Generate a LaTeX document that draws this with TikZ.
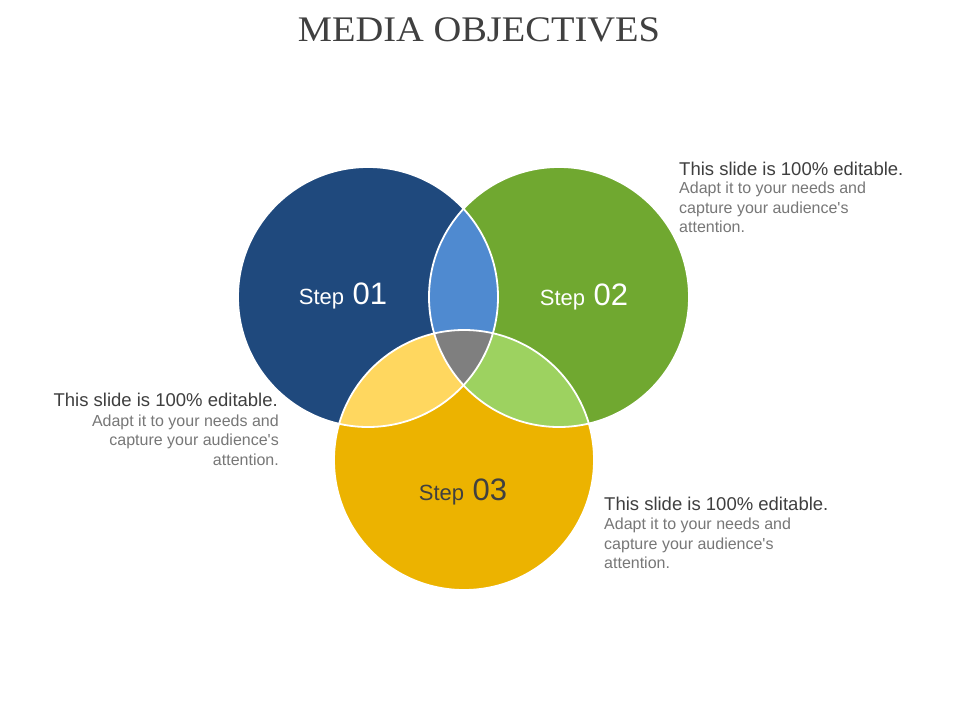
\documentclass[tikz,border=0pt]{standalone}
\usepackage{fontspec}
\usepackage{graphicx}
\setmainfont{Liberation Sans}[Ligatures=TeXOff]
\newfontfamily\titlefont{Liberation Serif}
\definecolor{cblue}{HTML}{1F497D}
\definecolor{cgreen}{HTML}{70A830}
\definecolor{cyellow}{HTML}{ECB300}
\definecolor{clblue}{HTML}{4F8AD0}
\definecolor{clyellow}{HTML}{FFD75F}
\definecolor{clgreen}{HTML}{9DD260}
\definecolor{cgray}{HTML}{7F7F7F}
\definecolor{chead}{HTML}{3F3F3F}
\definecolor{cbody}{HTML}{777777}
\definecolor{ctitle}{HTML}{404040}
\tikzset{
  headtxt/.style={inner sep=0pt, text=chead, font=\fontsize{18.5}{20}\selectfont},
  bodytxt/.style={inner sep=0pt, text=cbody, font=\fontsize{16}{18}\selectfont},
  steptxt/.style={inner sep=0pt, anchor=base},
  ring/.style={draw=white, line width=1.8pt}
}
\newcommand{\steplabel}[1]{{\fontsize{22}{22}\selectfont Step\fontsize{31}{31}\selectfont{} #1}}
\begin{document}
\begin{tikzpicture}[x=1pt,y=-1pt]
\useasboundingbox (0,0) rectangle (960,720);
\fill[white] (0,0) rectangle (960,720);
% title
\node[inner sep=0pt, anchor=base, text=ctitle] (title) at (479,41)
  {\resizebox{362pt}{\height}{\titlefont\fontsize{36}{36}\selectfont MEDIA OBJECTIVES}};
% circle centres
\coordinate (cb) at (368,297);
\coordinate (cg) at (559,297);
\coordinate (cy) at (464,460);
% base circles
\fill[cblue] (cb) circle[radius=130pt];
\fill[cgreen] (cg) circle[radius=130pt];
\fill[cyellow] (cy) circle[radius=130pt];
% pairwise overlaps
\begin{scope}
  \clip (cb) circle[radius=130pt];
  \fill[clblue] (cg) circle[radius=130pt];
\end{scope}
\begin{scope}
  \clip (cb) circle[radius=130pt];
  \fill[clyellow] (cy) circle[radius=130pt];
\end{scope}
\begin{scope}
  \clip (cg) circle[radius=130pt];
  \fill[clgreen] (cy) circle[radius=130pt];
\end{scope}
\begin{scope}
  \clip (cb) circle[radius=130pt];
  \clip (cg) circle[radius=130pt];
  \fill[cgray] (cy) circle[radius=130pt];
\end{scope}
% white outlines
\draw[ring] (cb) circle[radius=130pt];
\draw[ring] (cg) circle[radius=130pt];
\draw[ring] (cy) circle[radius=130pt];
% step labels
\node[steptxt, text=white] (s1) at (343,304) {\steplabel{01}};
\node[steptxt, text=white] (s2) at (584,305) {\steplabel{02}};
\node[steptxt, text=ctitle] (s3) at (463,500) {\steplabel{03}};
% top-right text
\node[headtxt, anchor=base west] (h2) at (679,175) {This slide is 100\% editable.};
\node[bodytxt, anchor=base west] (b2a) at (679,193.5) {Adapt it to your needs and};
\node[bodytxt, anchor=base west] (b2b) at (679,213) {capture your audience's};
\node[bodytxt, anchor=base west] (b2c) at (679,232.5) {attention.};
% left text
\node[headtxt, anchor=base east] (h1) at (278,406.5) {This slide is 100\% editable.};
\node[bodytxt, anchor=base east] (b1a) at (279,426) {Adapt it to your needs and};
\node[bodytxt, anchor=base east] (b1b) at (279,445.5) {capture your audience's};
\node[bodytxt, anchor=base east] (b1c) at (279,465) {attention.};
% bottom-right text
\node[headtxt, anchor=base west] (h3) at (604,510.5) {This slide is 100\% editable.};
\node[bodytxt, anchor=base west] (b3a) at (604,529.5) {Adapt it to your needs and};
\node[bodytxt, anchor=base west] (b3b) at (604,549) {capture your audience's};
\node[bodytxt, anchor=base west] (b3c) at (604,568.5) {attention.};
\end{tikzpicture}
\end{document}
